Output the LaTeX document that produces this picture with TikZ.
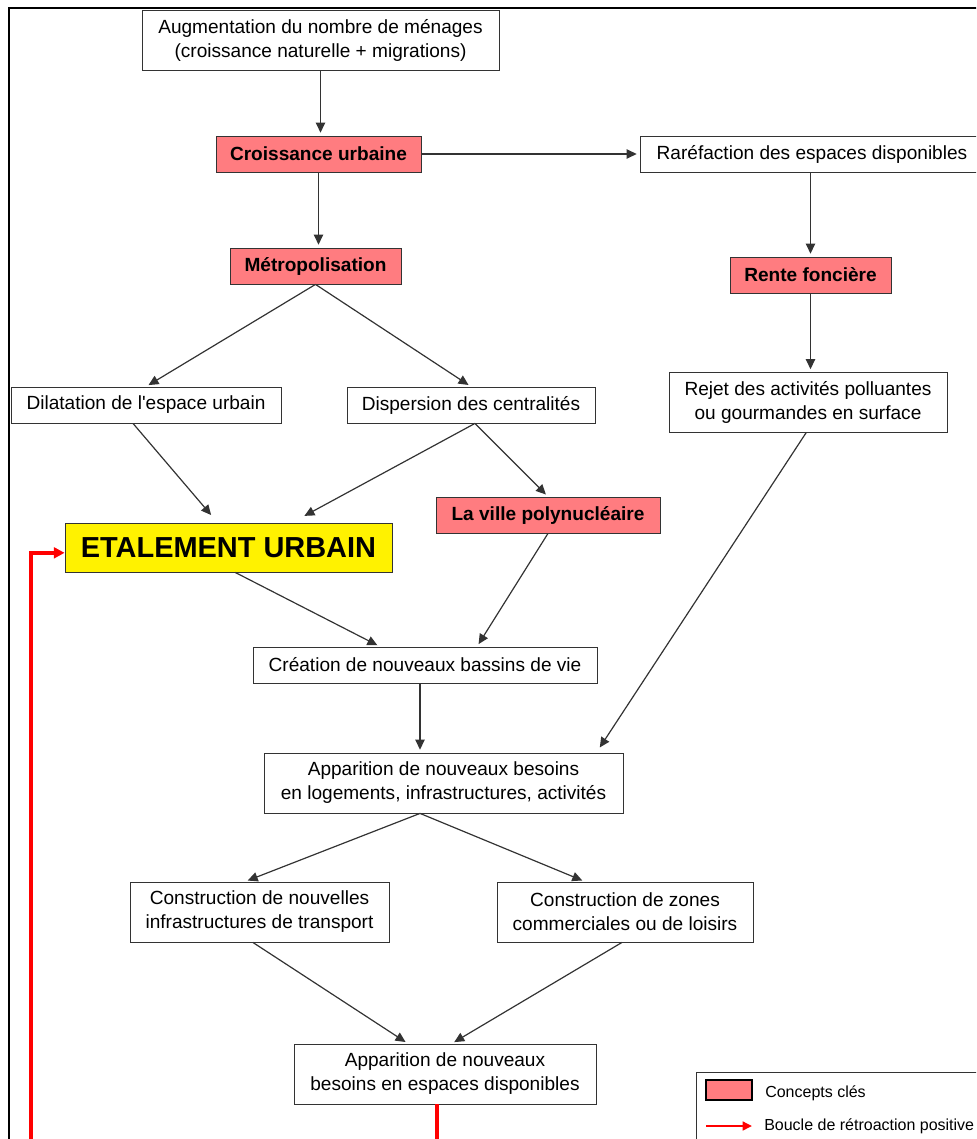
\documentclass[tikz,border=0pt]{standalone}
\usepackage{fontspec}
\setmainfont{Liberation Sans}
\usetikzlibrary{arrows.meta}
\definecolor{rosecle}{HTML}{FF7C80}
\definecolor{trait}{HTML}{333333}
\tikzset{
  boite/.style={draw=trait,line width=0.6pt,fill=white,align=center,inner sep=0pt,
    minimum height=27pt,font=\fontsize{14.3}{18}\selectfont},
  deuxlignes/.style={minimum height=45pt},
  concept/.style={boite,fill=rosecle,font=\fontsize{14.3}{18}\selectfont\bfseries},
  fleche/.style={draw=trait,line width=0.9pt,-{Triangle[length=7.5pt,width=7pt]},shorten >=2.2pt},
  boucle/.style={draw=red,line width=2.6pt,-{Triangle[length=8pt,width=8pt]}}
}
\begin{document}
\begin{tikzpicture}[x=0.75pt,y=-0.75pt]
\useasboundingbox (0,0) rectangle (976,1139);
\clip (0,0) rectangle (976,1139);
\draw[line width=1.5pt] (9,8) rectangle (990,1170);

\node[boite,deuxlignes,minimum width=267.75pt] (aug) at (320.5,40) {Augmentation du nombre de ménages\\(croissance naturelle + migrations)};
\node[concept,minimum width=153.75pt] (croiss) at (318.5,154) {Croissance urbaine};
\node[boite,minimum width=258pt] (raref) at (812,154) {Raréfaction des espaces disponibles};
\node[concept,minimum width=128.25pt] (metro) at (315.5,266) {Métropolisation};
\node[concept,minimum width=120.75pt] (rente) at (810.5,275) {Rente foncière};
\node[boite,minimum width=202.5pt] (dilat) at (146,405) {Dilatation de l\textquotesingle espace urbain};
\node[boite,minimum width=186pt] (dispers) at (471,405) {Dispersion des centralités};
\node[boite,deuxlignes,minimum width=208.5pt] (rejet) at (808,402.5) {Rejet des activités polluantes\\ou gourmandes en surface};
\node[concept,minimum width=168pt] (ville) at (548,515) {La ville polynucléaire};
\node[boite,fill=yellow,minimum width=245.25pt,minimum height=36.75pt,font=\fontsize{21.7}{24}\selectfont\bfseries] (etal) at (228.5,547.5) {ETALEMENT URBAIN};
\node[boite,minimum width=258pt] (creation) at (425,665) {Création de nouveaux bassins de vie};
\node[boite,deuxlignes,minimum width=269.25pt] (appar) at (443.5,783) {Apparition de nouveaux besoins\\en logements, infrastructures, activités};
\node[boite,deuxlignes,minimum width=194.25pt] (infra) at (259.5,912) {Construction de nouvelles\\infrastructures de transport};
\node[boite,deuxlignes,minimum width=192pt] (zones) at (625,912) {Construction de zones\\commerciales ou de loisirs};
\node[boite,deuxlignes,minimum width=226.5pt] (espaces) at (445,1074) {Apparition de nouveaux\\besoins en espaces disponibles};

\draw[fleche] (aug.south) -- (aug.south |- croiss.north);
\draw[fleche] (croiss.east) -- (raref.west);
\draw[fleche] (croiss.south) -- (croiss.south |- metro.north);
\draw[fleche] (rente.north |- raref.south) -- (rente.north);
\draw[fleche] (rente.south) -- (rente.south |- rejet.north);
\draw[fleche] (metro.south) -- (dilat.north);
\draw[fleche] (metro.south) -- (dispers.north);
\draw[fleche] ([xshift=-9.75pt]dilat.south) -- ([xshift=-11.6pt,yshift=4pt]etal.north);
\draw[fleche] ([xshift=3pt]dispers.south) -- ([xshift=55pt,yshift=4pt]etal.north);
\draw[fleche] ([xshift=3pt]dispers.south) -- (ville.north);
\draw[fleche] ([xshift=5pt]etal.south) -- ([xshift=-33.75pt]creation.north);
\draw[fleche] (ville.south) -- ([xshift=39pt]creation.north);
\draw[fleche] ([xshift=-1.5pt]rejet.south) -- ([xshift=116pt,yshift=2pt]appar.north);
\draw[fleche] ([xshift=-3.75pt]creation.south) -- ([xshift=-3.75pt]creation.south |- appar.north);
\draw[fleche] ([xshift=-17.6pt]appar.south) -- ([xshift=-10.9pt]infra.north);
\draw[fleche] ([xshift=-17.6pt]appar.south) -- ([xshift=-30pt]zones.north);
\draw[fleche] ([xshift=-5pt]infra.south) -- ([xshift=-27.75pt]espaces.north);
\draw[fleche] ([xshift=-2.25pt]zones.south) -- ([xshift=5pt]espaces.north);

\coordinate (retour) at (31,1160);
\draw[boucle] ([xshift=-6pt]espaces.south) |- (retour) |- ([yshift=-4pt]etal.west);

\node[draw=trait,line width=0.6pt,anchor=north west,minimum width=225pt,minimum height=75pt] (legende) at (696,1072) {};
\node[draw=black,line width=0.8pt,fill=rosecle,minimum width=34.5pt,minimum height=15pt,inner sep=0pt] (cle) at (729,1090) {};
\node[anchor=west,inner sep=0pt,font=\fontsize{12}{14}\selectfont] (cletexte) at (765,1093) {Concepts clés};
\coordinate (flechea) at (706,1126);
\coordinate (flecheb) at (752,1126);
\draw[draw=red,line width=2pt,-{Triangle[length=7pt,width=6.5pt]}] (flechea) -- (flecheb);
\node[anchor=west,inner sep=0pt,font=\fontsize{12}{14}\selectfont] (boucletexte) at (764,1126) {Boucle de rétroaction positive};
\end{tikzpicture}
\end{document}
